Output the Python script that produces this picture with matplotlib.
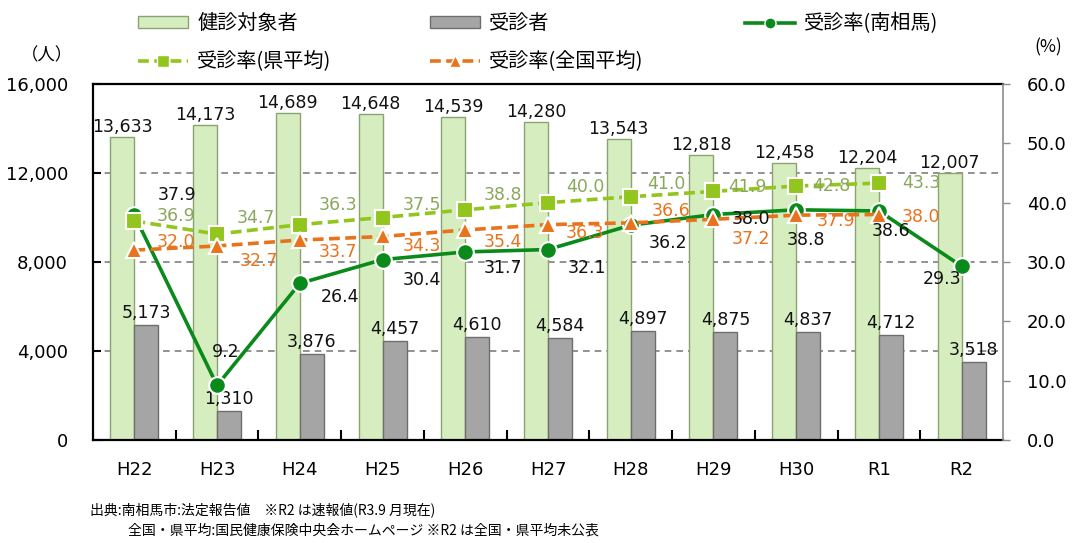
import numpy as np
import matplotlib.pyplot as plt
from matplotlib.ticker import FixedLocator, FuncFormatter
from matplotlib.lines import Line2D
from matplotlib.patches import Patch

plt.rcParams['font.family'] = ['DejaVu Sans', 'Noto Sans CJK JP']

years = ['H22', 'H23', 'H24', 'H25', 'H26', 'H27', 'H28', 'H29', 'H30', 'R1', 'R2']
targets = [13633, 14173, 14689, 14648, 14539, 14280, 13543, 12818, 12458, 12204, 12007]
examinees = [5173, 1310, 3876, 4457, 4610, 4584, 4897, 4875, 4837, 4712, 3518]
rate_city = [37.9, 9.2, 26.4, 30.4, 31.7, 32.1, 36.2, 38.0, 38.8, 38.6, 29.3]
rate_pref = [36.9, 34.7, 36.3, 37.5, 38.8, 40.0, 41.0, 41.9, 42.8, 43.3]
rate_nat = [32.0, 32.7, 33.7, 34.3, 35.4, 36.3, 36.6, 37.2, 37.9, 38.0]

# label offsets in pixels (dx, dy; dy up)
off_city = [(43, 20), (9, 33), (40, -14), (39, -20), (38, -16), (39, -18),
            (37, -18), (37, -4), (10, -30), (12, -20), (-20, -13)]
off_pref = [(42, 5), (39, 16), (38, 20), (39, 12), (38, 15), (37, 16),
            (36, 13), (34, 4), (35, 0), (42, 0)]
off_nat = [(42, 8), (42, -15), (38, -12), (39, -10), (38, -12), (37, -8),
           (40, 12), (37, -20), (40, -6), (42, -2)]

c_bar1 = '#d6eebf'
c_bar1e = '#8aa372'
c_bar2 = '#a5a5a5'
c_bar2e = '#6e6e6e'
c_city = '#0a8a1a'
c_pref = '#92c51e'
c_pref_t = '#8aa85c'
c_nat = '#e8731c'

fig = plt.figure(figsize=(10.76, 5.43), dpi=100)
ax = fig.add_axes([93/1076, 1 - 440/543, 910/1076, 356/543])
ax2 = ax.twinx()

x = np.arange(len(years))
w = 0.29
ax.bar(x - w/2, targets, w, color=c_bar1, edgecolor=c_bar1e, linewidth=1, zorder=2)
ax.bar(x + w/2, examinees, w, color=c_bar2, edgecolor=c_bar2e, linewidth=1, zorder=2)

for i, v in enumerate(targets):
    ax.annotate(f'{v:,}', (x[i] - w/2, v), xytext=(0, 1), textcoords='offset pixels',
                ha='center', va='bottom', fontsize=12.5, color='#111111', zorder=5)
for i, v in enumerate(examinees):
    ax.annotate(f'{v:,}', (x[i] + w/2, v), xytext=(0, 3), textcoords='offset pixels',
                ha='center', va='bottom', fontsize=12.5, color='#111111', zorder=5)

ax.set_ylim(0, 16000)
ax.set_xlim(-0.5, len(years) - 0.5)
ax.set_yticks([0, 4000, 8000, 12000, 16000])
ax.yaxis.set_major_formatter(FuncFormatter(lambda v, p: f'{int(v):,}'))
for g in [4000, 8000, 12000]:
    ax.axhline(g, color='#7f7f7f', linestyle=(0, (4, 3)), linewidth=1.2, zorder=1)

ax.set_xticks(x)
ax.set_xticklabels(years, fontsize=13)
ax.xaxis.set_minor_locator(FixedLocator(np.arange(0.5, len(years) - 0.5, 1)))
ax.tick_params(axis='x', which='major', length=0, pad=15)
ax.tick_params(axis='x', which='minor', direction='in', length=7, width=1.5, color='black')
ax.tick_params(axis='y', direction='in', length=6, width=1.5, labelsize=13, pad=18)
for s in ['left', 'bottom', 'top']:
    ax.spines[s].set_linewidth(1.6)
    ax.spines[s].set_color('black')
ax.spines['right'].set_visible(False)

# rate lines
ax2.plot(x, rate_city, color=c_city, linewidth=2.6, marker='o', markersize=12,
         markeredgecolor='white', markeredgewidth=1.5, zorder=3)
xp = x[:len(rate_pref)]
ax2.plot(xp, rate_pref, color=c_pref, linewidth=2.6, linestyle=(0, (3, 1.5)),
         marker='s', markersize=12, markeredgecolor='white', markeredgewidth=1.5, zorder=4)
ax2.plot(xp, rate_nat, color=c_nat, linewidth=2.6, linestyle=(0, (3, 1.5)),
         marker='^', markersize=11, markeredgecolor='white', markeredgewidth=1.5, zorder=5)

for i, v in enumerate(rate_city):
    ax2.annotate(f'{v:.1f}', (x[i], v), xytext=off_city[i], textcoords='offset pixels',
                 ha='center', va='center', fontsize=12.5, color='#111111', zorder=6)
for i, v in enumerate(rate_pref):
    ax2.annotate(f'{v:.1f}', (x[i], v), xytext=off_pref[i], textcoords='offset pixels',
                 ha='center', va='center', fontsize=12.5, color=c_pref_t, zorder=6)
for i, v in enumerate(rate_nat):
    ax2.annotate(f'{v:.1f}', (x[i], v), xytext=off_nat[i], textcoords='offset pixels',
                 ha='center', va='center', fontsize=12.5, color=c_nat, zorder=6)

ax2.set_ylim(0, 60)
ax2.set_yticks(np.arange(0, 61, 10))
ax2.yaxis.set_major_formatter(FuncFormatter(lambda v, p: f'{v:.1f}'))
ax2.tick_params(axis='y', direction='out', length=5, width=1, color='#8c8c8c',
                labelsize=13, pad=12)
ax2.spines['right'].set_color('#8c8c8c')
ax2.spines['right'].set_linewidth(1.2)
for s in ['left', 'bottom', 'top']:
    ax2.spines[s].set_visible(False)

fig.text(47/1076, 1 - 55/543, '（人）', fontsize=12.5, ha='center', va='center',
         family=['Noto Sans CJK JP'])
fig.text(1048/1076, 1 - 47/543, '(%)', fontsize=12.5, ha='center', va='center',
         family=['Noto Sans CJK JP'])

# legends
h_t = Patch(facecolor=c_bar1, edgecolor=c_bar1e)
h_e = Patch(facecolor=c_bar2, edgecolor=c_bar2e)
h_c = Line2D([], [], color=c_city, linewidth=2.6, marker='o', markersize=8,
             markeredgecolor='white')
h_p = Line2D([], [], color=c_pref, linewidth=2.6, linestyle=(0, (3, 1.5)), marker='s',
             markersize=8, markeredgecolor='white')
h_n = Line2D([], [], color=c_nat, linewidth=2.6, linestyle=(0, (3, 1.5)), marker='^',
             markersize=8, markeredgecolor='white')
kw = dict(frameon=False, handlelength=2.5, handleheight=0.5, handletextpad=0.45,
          labelspacing=0.85, prop={'family': ['Noto Sans CJK JP'], 'size': 14.5},
          loc='upper left', borderaxespad=0, borderpad=0)
top = 1 - 13/543
fig.legend([h_t, h_p], ['健診対象者', '受診率(県平均)'], bbox_to_anchor=(138/1076, top), **kw)
fig.legend([h_e, h_n], ['受診者', '受診率(全国平均)'], bbox_to_anchor=(430/1076, top), **kw)
fig.legend([h_c], ['受診率(南相馬)'], bbox_to_anchor=(745/1076, top), **kw)

fig.text(90/1076, 1 - 510/543, '出典:南相馬市:法定報告値　※R2 は速報値(R3.9 月現在)',
         fontsize=10, ha='left', va='center', family=['Noto Sans CJK JP'])
fig.text(128/1076, 1 - 531/543, '全国・県平均:国民健康保険中央会ホームページ ※R2 は全国・県平均未公表',
         fontsize=10, ha='left', va='center', family=['Noto Sans CJK JP'])

fig.savefig('out.png', dpi=100)
